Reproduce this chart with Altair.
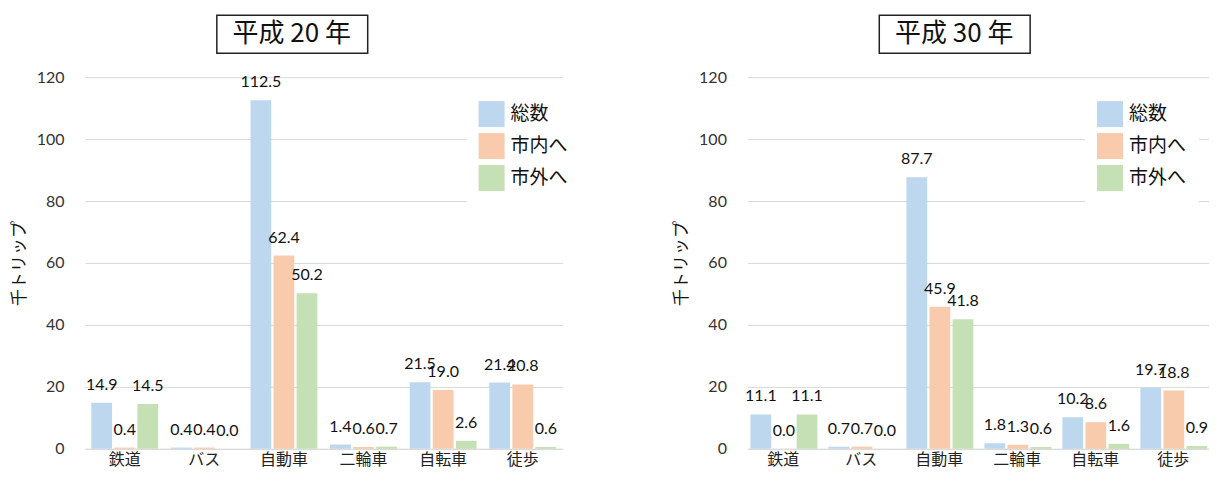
import altair as alt
import pandas as pd

categories = ["鉄道", "バス", "自動車", "二輪車", "自転車", "徒歩"]
series = ["総数", "市内へ", "市外へ"]
colors = ["#BDD7EE", "#F8CBAD", "#C5E0B4"]
y_ticks = [0, 20, 40, 60, 80, 100, 120]

h20_total = [14.9, 0.4, 112.5, 1.4, 21.5, 21.4]
h20_inner = [0.4, 0.4, 62.4, 0.6, 19.0, 20.8]
h20_outer = [14.5, 0.0, 50.2, 0.7, 2.6, 0.6]

h30_total = [11.1, 0.7, 87.7, 1.8, 10.2, 19.7]
h30_inner = [0.0, 0.7, 45.9, 1.3, 8.6, 18.8]
h30_outer = [11.1, 0.0, 41.8, 0.6, 1.6, 0.9]

JP = "Noto Sans CJK JP"
NUM = "Lato"


def panel(title, tot, inner, outer, legend_x, width, pad_outer):
    rows = []
    for i, c in enumerate(categories):
        for s, vals in zip(series, [tot, inner, outer]):
            rows.append({"cat": c, "series": s, "value": vals[i]})
    df = pd.DataFrame(rows)
    base = alt.Chart(df).encode(
        x=alt.X(
            "cat:N",
            sort=categories,
            scale=alt.Scale(paddingInner=0.16, paddingOuter=pad_outer),
            axis=alt.Axis(
                title=None, labelAngle=0, labelFont=JP, labelFontSize=16,
                labelColor="#222222", labelPadding=3, ticks=False,
                domainColor="#D9D9D9", domainWidth=1,
            ),
        ),
        xOffset=alt.XOffset("series:N", sort=series, scale=alt.Scale(paddingInner=0.1)),
        y=alt.Y(
            "value:Q",
            scale=alt.Scale(domain=[0, 120], nice=False),
            axis=alt.Axis(
                values=y_ticks, title="千トリップ", titleFont=JP, titleFontSize=17,
                titleFontWeight="normal", titleColor="#111111", titlePadding=8,
                labelFont=NUM, labelFontSize=16, labelColor="#333333",
                labelPadding=21, ticks=False, domain=False,
                grid=True, gridColor="#D9D9D9", gridWidth=1,
            ),
        ),
    )
    bars = base.mark_bar().encode(
        color=alt.Color(
            "series:N", sort=series,
            scale=alt.Scale(domain=series, range=colors),
            legend=alt.Legend(
                title=None, orient="none", legendX=legend_x - 12, legendY=12,
                symbolType="square", symbolSize=676, symbolStrokeWidth=0,
                labelFont=JP, labelFontSize=19, labelColor="#111111",
                rowPadding=6, labelOffset=6, padding=12, fillColor="white",
            ),
        )
    )
    labels = base.mark_text(dy=-18, fontSize=16, font=NUM, color="#111111").encode(
        text=alt.Text("value:Q", format=".1f")
    )
    tdf = pd.DataFrame({"t": [title]})
    box = alt.Chart(tdf).mark_rect(fill="white", stroke="#222222", strokeWidth=1.5).encode(
        x=alt.value(132), x2=alt.value(283), y=alt.value(-62), y2=alt.value(-24)
    )
    ttl = alt.Chart(tdf).mark_text(fontSize=26, font=JP, color="#111111").encode(
        text="t:N", x=alt.value(207), y=alt.value(-43)
    )
    return alt.layer(bars, labels, box, ttl).properties(width=width, height=372)


left = panel("平成 20 年", h20_total, h20_inner, h20_outer, 394, 478, 0.08)
right = panel("平成 30 年", h30_total, h30_inner, h30_outer, 350, 462, 0.04)

chart = (
    alt.hconcat(left, right, spacing=92)
    .resolve_legend(color="independent")
    .properties(padding={"left": 2, "top": 6, "right": 0, "bottom": 3})
    .configure_view(stroke=None)
)

chart.save("out.html", embed_options={"renderer": "svg", "actions": False})
